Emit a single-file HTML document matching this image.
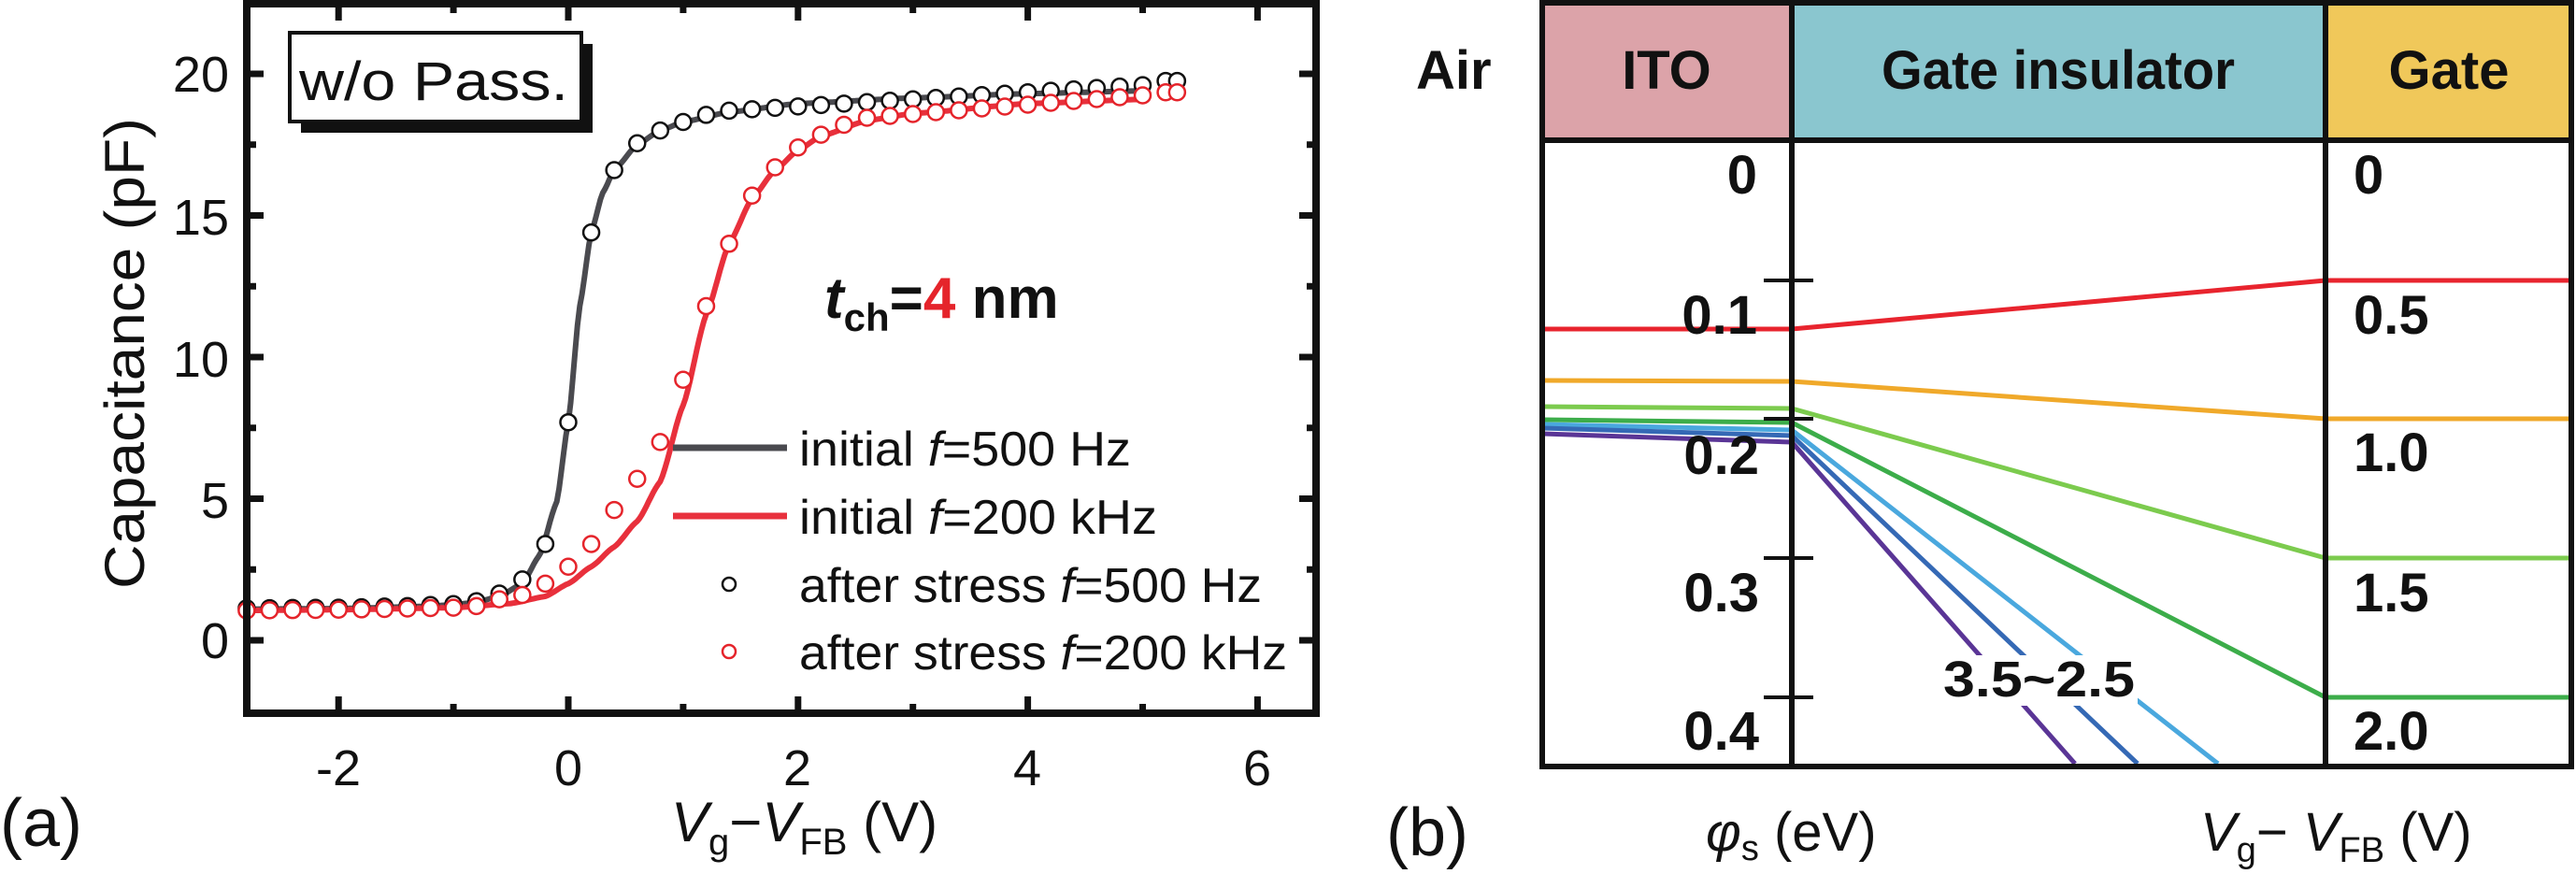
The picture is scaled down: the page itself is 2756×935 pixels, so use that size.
<!DOCTYPE html>
<html><head><meta charset="utf-8"><style>
html,body{margin:0;padding:0;background:#fff;}
svg{display:block;}
text{font-family:"Liberation Sans",sans-serif;}
</style></head><body>
<svg id="s" width="2756" height="935" viewBox="0 0 2756 935" xmlns="http://www.w3.org/2000/svg">
<rect width="2756" height="935" fill="#fff"/>
<g id="pa"></g>
<rect x="264" y="4" width="1144" height="759" fill="none" stroke="#111" stroke-width="8"/>
<g id="ticks" stroke="#111" stroke-width="7"></g>
<g font-size="54" fill="#111" text-anchor="middle">
<text x="362" y="840">-2</text><text x="608" y="840">0</text><text x="853" y="840">2</text><text x="1099" y="840">4</text><text x="1345" y="840">6</text>
</g>
<g font-size="54" fill="#111" text-anchor="end">
<text x="245" y="98">20</text><text x="245" y="251">15</text><text x="245" y="403">10</text><text x="245" y="554">5</text><text x="245" y="704">0</text>
</g>
<text transform="translate(154,378) rotate(-90)" font-size="60" text-anchor="middle" fill="#111" textLength="504" lengthAdjust="spacingAndGlyphs">Capacitance (pF)</text>
<text x="718" y="900" font-size="60" fill="#111"><tspan font-style="italic">V</tspan><tspan font-size="40" dy="14">g</tspan><tspan dy="-14">−</tspan><tspan font-style="italic">V</tspan><tspan font-size="40" dy="14">FB</tspan><tspan dy="-14"> (V)</tspan></text>
<text x="0" y="905" font-size="72" fill="#111">(a)</text>
<rect x="322" y="47" width="312" height="95" fill="#111"/>
<rect x="310" y="35" width="312" height="95" fill="#fff" stroke="#111" stroke-width="4"/>
<text x="320" y="107" font-size="58" fill="#111" textLength="288" lengthAdjust="spacingAndGlyphs">w/o Pass.</text>
<text x="882" y="340" font-size="62" font-weight="bold" fill="#111"><tspan font-style="italic">t</tspan><tspan font-size="42" dy="14">ch</tspan><tspan dy="-14">=</tspan><tspan fill="#e5242b">4</tspan> nm</text>
<line x1="720" y1="479" x2="842" y2="479" stroke="#4a4a4f" stroke-width="7"/>
<line x1="720" y1="552" x2="842" y2="552" stroke="#e8303c" stroke-width="7"/>
<circle cx="780" cy="625" r="7" fill="#fff" stroke="#111" stroke-width="2.5"/>
<circle cx="780" cy="697" r="7" fill="#fff" stroke="#e5242b" stroke-width="2.5"/>
<g font-size="52" fill="#111">
<text x="855" y="498" textLength="355" lengthAdjust="spacingAndGlyphs">initial <tspan font-style="italic">f</tspan>=500 Hz</text>
<text x="855" y="571" textLength="383" lengthAdjust="spacingAndGlyphs">initial <tspan font-style="italic">f</tspan>=200 kHz</text>
<text x="855" y="644" textLength="495" lengthAdjust="spacingAndGlyphs">after stress <tspan font-style="italic">f</tspan>=500 Hz</text>
<text x="855" y="716" textLength="522" lengthAdjust="spacingAndGlyphs">after stress <tspan font-style="italic">f</tspan>=200 kHz</text>
</g>

<rect x="1650" y="3" width="267" height="147" fill="#dca3a9"/>
<rect x="1917" y="3" width="571" height="147" fill="#8ac6cf"/>
<rect x="2488" y="3" width="263" height="147" fill="#f0c85a"/>
<g stroke-width="5" fill="none">
<polyline points="1650,352 1917,352 2488,300 2751,300" stroke="#e8242e"/>
<polyline points="1650,407 1917,408 2488,448 2751,448" stroke="#f0a92a"/>
<polyline points="1650,435 1917,437 2488,597 2751,597" stroke="#7ccb4e"/>
<polyline points="1650,449 1917,452 2488,746 2751,746" stroke="#3cad4a"/>
<polyline points="1650,454 1917,460 2373,817" stroke="#4aa8de"/>
<polyline points="1650,458 1917,466 2287,817" stroke="#3569b5"/>
<polyline points="1650,464 1917,473 2220,817" stroke="#5a3596"/>
</g>
<rect x="2075" y="701" width="212" height="54" fill="#fff"/>
<text x="2079" y="745" font-size="54" font-weight="bold" fill="#111" textLength="205" lengthAdjust="spacingAndGlyphs">3.5~2.5</text>
<g stroke="#111" stroke-width="6" fill="none">
<rect x="1650" y="3" width="1101" height="817"/>
<line x1="1650" y1="150" x2="2751" y2="150"/>
<line x1="1917" y1="3" x2="1917" y2="820"/>
<line x1="2488" y1="3" x2="2488" y2="820"/>
<line x1="1887" y1="300" x2="1940" y2="300" stroke-width="4"/>
<line x1="1887" y1="448" x2="1940" y2="448" stroke-width="4"/>
<line x1="1887" y1="597" x2="1940" y2="597" stroke-width="4"/>
<line x1="1887" y1="746" x2="1940" y2="746" stroke-width="4"/>
</g>
<g font-size="58" font-weight="bold" fill="#111">
<text x="1783" y="95" text-anchor="middle">ITO</text>
<text x="2202" y="95" text-anchor="middle" textLength="378" lengthAdjust="spacingAndGlyphs">Gate insulator</text>
<text x="2620" y="95" text-anchor="middle">Gate</text>
<text x="1515" y="95">Air</text>
<text x="1880" y="207" text-anchor="end">0</text>
<text x="1880" y="357" text-anchor="end">0.1</text>
<text x="1882" y="507" text-anchor="end">0.2</text>
<text x="1882" y="654" text-anchor="end">0.3</text>
<text x="1882" y="802" text-anchor="end">0.4</text>
<text x="2518" y="207">0</text>
<text x="2518" y="357">0.5</text>
<text x="2518" y="504">1.0</text>
<text x="2518" y="654">1.5</text>
<text x="2518" y="802">2.0</text>
</g>
<text x="1483" y="915" font-size="72" fill="#111">(b)</text>
<text x="1825" y="910" font-size="58" fill="#111"><tspan font-style="italic">φ</tspan><tspan font-size="38" dy="10">s</tspan><tspan dy="-10"> (eV)</tspan></text>
<text x="2354" y="910" font-size="58" fill="#111"><tspan font-style="italic">V</tspan><tspan font-size="38" dy="12">g</tspan><tspan dy="-12">− </tspan><tspan font-style="italic">V</tspan><tspan font-size="38" dy="12">FB</tspan><tspan dy="-12"> (V)</tspan></text>
</svg>
<script>
(function(){
var NS="http://www.w3.org/2000/svg";
function X(v){return 608+v*122.9;}
function Y(c){return 685-c*30.3;}
function interp(pts,x){
 if(x<=pts[0][0])return pts[0][1];
 for(var i=1;i<pts.length;i++){if(x<=pts[i][0]){var a=pts[i-1],b=pts[i];var t=(x-a[0])/(b[0]-a[0]);t=t*t*(3-2*t)*0.35+t*0.65;return a[1]+(b[1]-a[1])*t;}}
 return pts[pts.length-1][1];
}
var blk=[[-2.9,1.1],[-2,1.12],[-1.4,1.18],[-1,1.25],[-0.8,1.35],[-0.6,1.55],[-0.4,2.0],[-0.25,3.0],[-0.1,4.9],[0,7.7],[0.1,11.8],[0.2,14.4],[0.3,15.8],[0.4,16.6],[0.6,17.5],[0.8,18.0],[1.0,18.3],[1.4,18.65],[2,18.95],[3,19.15],[4,19.3],[5,19.4]];
var red=[[-2.9,1.05],[-2,1.08],[-1,1.15],[-0.5,1.3],[-0.2,1.55],[0,2.0],[0.2,2.6],[0.4,3.3],[0.6,4.2],[0.8,5.6],[1.0,8.3],[1.2,11.5],[1.4,14.0],[1.6,15.6],[1.8,16.6],[2.0,17.3],[2.2,17.8],[2.6,18.35],[3,18.6],[4,18.95],[5,19.1]];
var pa=document.getElementById('pa');
function path(pts,col){var d="";for(var x=-2.8;x<=5.0001;x+=0.02){d+=(d?"L":"M")+X(x).toFixed(1)+","+Y(interp(pts,x)).toFixed(1);}
 var p=document.createElementNS(NS,"path");p.setAttribute("d",d);p.setAttribute("fill","none");p.setAttribute("stroke",col);p.setAttribute("stroke-width","6");pa.appendChild(p);}
path(blk,"#4a4a4f");path(red,"#e8303c");
var bm=[[-0.6,1.65],[-0.4,2.15],[-0.2,3.4],[0,7.7],[0.2,14.4],[0.4,16.6],[0.6,17.55],[0.8,18.0],[1.0,18.3],[1.2,18.55],[1.4,18.7]];
var rm=[[-0.6,1.45],[-0.4,1.6],[-0.2,2.0],[0,2.6],[0.2,3.4],[0.4,4.6],[0.6,5.7],[0.8,7.0],[1.0,9.2],[1.2,11.8],[1.4,14.0],[1.6,15.7],[1.8,16.7],[2.0,17.4],[2.2,17.85],[2.4,18.2],[2.6,18.45]];
function circ(x,c,col){var e=document.createElementNS(NS,"circle");e.setAttribute("cx",X(x));e.setAttribute("cy",Y(c));e.setAttribute("r","8.5");e.setAttribute("fill","#fff");e.setAttribute("stroke",col);e.setAttribute("stroke-width","2.5");pa.appendChild(e);}
function val(list,pts,x,hi){for(var i=0;i<list.length;i++)if(Math.abs(list[i][0]-x)<0.01)return list[i][1];return interp(pts,x)+hi;}
var xs=[];for(var k=0;k<=39;k++)xs.push(Math.round((-2.8+k*0.2)*10)/10);
xs.push(5.2);xs.push(5.3);
xs.forEach(function(x2){
 var cb= x2<=1.4? val(bm,blk,x2,0.03): (18.7+(x2-1.4)*0.25);
 if(x2>=5.15)cb=19.75;
 circ(x2,cb,"#111");
});
xs.forEach(function(x2){
 var cr= x2<=2.6? val(rm,red,x2,0.0): (18.45+(x2-2.6)*0.33);
 if(x2>=5.15)cr=19.35;
 circ(x2,cr,"#e5242b");
});
var t=document.getElementById('ticks');
function ln(x1,y1,x2,y2){var e=document.createElementNS(NS,"line");e.setAttribute("x1",x1);e.setAttribute("y1",y1);e.setAttribute("x2",x2);e.setAttribute("y2",y2);t.appendChild(e);}
for(var v=-2;v<=6;v++){var x=X(v);var L=(v%2==0)?18:10;ln(x,763,x,763-L);ln(x,4,x,4+L);}
for(var c=0;c<=22.5;c+=2.5){var y=Y(c);var L=(c%5==0)?18:10;ln(264,y,264+L,y);ln(1408,y,1408-L,y);}
})();
</script>
</body></html>
